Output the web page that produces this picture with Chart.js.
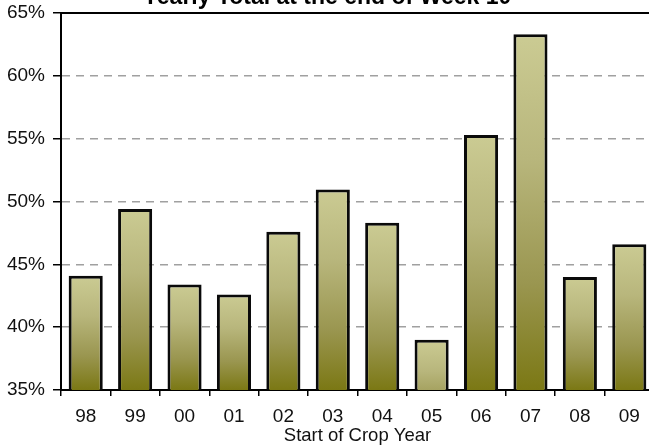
<!DOCTYPE html>
<html>
<head>
<meta charset="utf-8">
<script src="https://cdn.jsdelivr.net/npm/chart.js@4"></script>
<style>
  html, body { margin: 0; padding: 0; background: #fff; overflow: hidden; width: 649px; height: 446px; }
  #wrap { position: absolute; left: 0; top: -30px; width: 700px; height: 476px; }
</style>
</head>
<body>
<div id="wrap"><canvas id="chart"></canvas></div>
<script>
// crop years and share of yearly total reached at week 10 (%)
const years = ['98', '99', '00', '01', '02', '03', '04', '05', '06', '07', '08', '09'];
const shares = [44.1, 49.4, 43.4, 42.6, 47.6, 50.95, 48.3, 39.0, 55.3, 63.3, 44.0, 46.6];
const yTicks = [35, 40, 45, 50, 55, 60, 65];

const font = "'Liberation Sans', Arial, sans-serif";

// gradient per bar, light top -> olive bottom
function barFill(ctx) {
  const chart = ctx.chart;
  const y = chart.scales.y;
  if (!y || ctx.dataIndex === undefined) return '#a8a566';
  const top = y.getPixelForValue(shares[ctx.dataIndex]);
  const bottom = y.getPixelForValue(yTicks[0]);
  if (!isFinite(top) || !isFinite(bottom)) return '#a8a566';
  const h = Math.max(bottom - top, 90);
  const g = chart.ctx.createLinearGradient(0, top, 0, top + h);
  g.addColorStop(0, '#cbcb93');
  g.addColorStop(0.35, '#b8b67c');
  g.addColorStop(0.7, '#9a9650');
  g.addColorStop(1, '#7b7814');
  return g;
}

// solid frame line along the top of the plot
const topLine = {
  id: 'topLine',
  afterDatasetsDraw(chart) {
    const a = chart.chartArea;
    const c = chart.ctx;
    c.save();
    c.strokeStyle = '#000';
    c.lineWidth = 2;
    c.beginPath();
    c.moveTo(a.left - 1, a.top);
    c.lineTo(a.right, a.top);
    c.stroke();
    c.restore();
  }
};

new Chart(document.getElementById('chart'), {
  type: 'bar',
  data: {
    labels: years,
    datasets: [{
      data: shares,
      backgroundColor: barFill,
      borderColor: '#0a0a0a',
      borderWidth: 3,
      borderSkipped: false,
      barPercentage: 0.69,
      categoryPercentage: 1
    }]
  },
  options: {
    responsive: true,
    maintainAspectRatio: false,
    animation: false,
    layout: { padding: { left: 0, right: 46, top: 0, bottom: 0 } },
    plugins: {
      legend: { display: false },
      tooltip: { enabled: false },
      title: {
        display: true,
        text: 'Yearly Total at the end of Week 10',
        color: '#000',
        font: { family: font, size: 23, weight: 'bold' },
        padding: { top: 14, bottom: 1.4 }
      }
    },
    scales: {
      x: {
        grid: { offset: true, drawOnChartArea: false, color: '#000', tickLength: 6, lineWidth: 1.5 },
        border: { color: '#000', width: 2 },
        ticks: { color: '#111', font: { family: font, size: 19 }, padding: 9, maxRotation: 0 },
        title: {
          display: true,
          text: 'Start of Crop Year',
          color: '#111',
          font: { family: font, size: 18.5, lineHeight: 1.1 },
          padding: { top: 0, bottom: 0 }
        },
        afterFit(scale) { scale.height = 56; }
      },
      y: {
        min: 35,
        max: 65,
        afterBuildTicks(scale) { scale.ticks = yTicks.map(v => ({ value: v })); },
        grid: {
          color: c => (c.tick && (c.tick.value === 35 || c.tick.value === 65)) ? 'rgba(0,0,0,0)' : '#a0a0a0',
          lineWidth: 1.5,
          tickColor: '#000',
          tickLength: 8,
          tickWidth: 1.5
        },
        border: { color: '#000', width: 2, dash: [8, 6] },
        ticks: {
          color: '#111',
          font: { family: font, size: 19 },
          padding: 8,
          callback: v => v + '%'
        },
        afterFit(scale) { scale.width = 61; }
      }
    }
  },
  plugins: [topLine]
});
</script>
</body>
</html>
